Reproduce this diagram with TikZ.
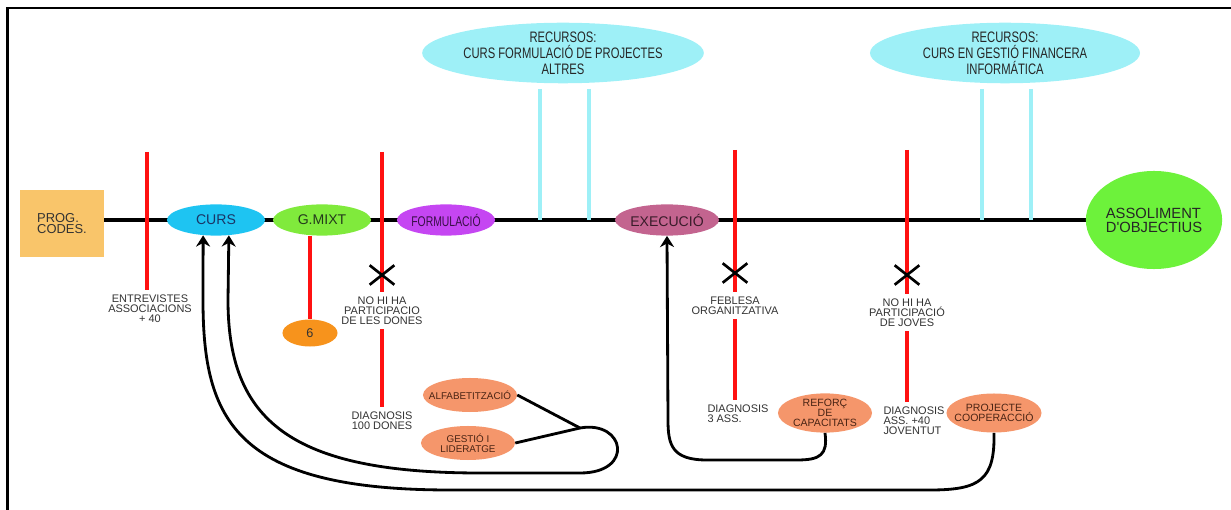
\documentclass[tikz,border=0pt]{standalone}
\usepackage{fontspec}
\setmainfont{Liberation Sans}
\newfontfamily\narrowsf[FakeStretch=0.74]{Liberation Sans}
\usetikzlibrary{shapes.geometric,shapes.misc,arrows.meta,backgrounds}

\definecolor{progOrange}{HTML}{F9C56A}
\definecolor{cursBlue}{HTML}{1EC4F2}
\definecolor{cursText}{HTML}{1A3566}
\definecolor{mixtGreen}{HTML}{80EA3C}
\definecolor{mixtText}{HTML}{243A1C}
\definecolor{formPurple}{HTML}{C546F2}
\definecolor{formText}{HTML}{3A1048}
\definecolor{execMauve}{HTML}{C3648F}
\definecolor{execText}{HTML}{3A1C2A}
\definecolor{goalGreen}{HTML}{6DF23B}
\definecolor{resCyan}{HTML}{9EF0F7}
\definecolor{sixOrange}{HTML}{F7931C}
\definecolor{salmon}{HTML}{F5966B}
\definecolor{salmonText}{HTML}{4A2414}
\definecolor{barRed}{HTML}{FF1111}
\definecolor{labelGray}{HTML}{333333}

\begin{document}
\begin{tikzpicture}[x=0.025cm, y=-0.025cm,
    stagebox/.style={ellipse, inner sep=0pt, minimum width=2.45cm, minimum height=0.78cm, font=\fontsize{10}{10}\selectfont},
    actionbox/.style={ellipse, fill=salmon, inner xsep=-6pt, inner ysep=0pt, minimum width=2.35cm, minimum height=0.85cm, align=center, text=salmonText, font=\fontsize{7}{7.2}\selectfont},
    resbox/.style={ellipse, fill=resCyan, inner sep=0pt, minimum width=6.75cm, minimum height=1.5cm, align=center, text=black!85, font=\narrowsf\fontsize{10.8}{11.4}\selectfont},
    notetext/.style={align=center, inner sep=3pt, text=labelGray, font=\fontsize{7.8}{7.2}\selectfont},
    redbar/.style={barRed, line width=3.5pt},
    resbar/.style={resCyan, line width=3.5pt},
    linkline/.style={line width=2pt},
    flowarrow/.style={line width=2pt, -{Stealth[length=8pt,width=10pt]}},
    blockmark/.style={cross out, draw, line width=1.9pt, minimum width=0.55cm, minimum height=0.42cm, inner sep=0pt}]
    \useasboundingbox (0,0) rectangle (1231,510);
    \draw[black, line width=1.8pt] (7.5,510) -- (7.5,8) -- (1231,8);

    \node[fill=progOrange, minimum width=2.1cm, minimum height=1.65cm, align=left, text=black!80, font=\fontsize{9.2}{8.4}\selectfont] (prog) at (62,223.5) {PROG.\\CODES.};
    \node[stagebox, fill=cursBlue, text=cursText] (curs) at (216,220) {CURS};
    \node[stagebox, fill=mixtGreen, text=mixtText] (gmixt) at (322,220) {G.MIXT};
    \node[stagebox, fill=formPurple, text=formText, font=\narrowsf\fontsize{10}{10}\selectfont] (form) at (446,220) {FORMULACIÓ};
    \node[stagebox, fill=execMauve, text=execText] (exec) at (667,220) {EXECUCIÓ};
    \node[ellipse, fill=goalGreen, minimum width=3.375cm, minimum height=2.45cm, inner sep=0pt, align=left, text=black!85, font=\fontsize{10.5}{10}\selectfont] (goal) at (1154,220) {ASSOLIMENT\\D\textquotesingle OBJECTIUS};

    \node[resbox] (recA) at (563,53) {RECURSOS:\\CURS FORMULACIÓ DE PROJECTES\\ALTRES};
    \node[resbox] (recB) at (1005,53) {RECURSOS:\\CURS EN GESTIÓ FINANCERA\\INFORMÁTICA};

    \begin{scope}[on background layer]
        \draw[line width=2.3pt] (prog.east |- curs) -- (goal.west);
    \end{scope}

    \node[notetext, anchor=north] (entrev) at (150,290) {ENTREVISTES\\ASSOCIACIONS\\+ 40};
    \node[ellipse, fill=sixOrange, minimum width=1.375cm, minimum height=0.675cm, inner sep=0pt, text=black!80, font=\fontsize{9}{9}\selectfont] (six) at (310,333) {6};
    \node[notetext, anchor=north] (nohiDones) at (382,292) {NO HI HA\\PARTICIPACIO\\DE LES DONES};
    \node[notetext, anchor=north] (diagDones) at (382,407) {DIAGNOSIS\\100 DONES};
    \node[notetext, anchor=north] (feblesa) at (735,292) {FEBLESA\\ORGANITZATIVA};
    \node[notetext, anchor=north west, align=left] (diagAss) at (703,400) {DIAGNOSIS\\3 ASS.};
    \node[notetext, anchor=north] (nohiJoves) at (907,294) {NO HI HA\\PARTICIPACIÓ\\DE JOVES};
    \node[notetext, anchor=north west, align=left] (diagJoves) at (879,402) {DIAGNOSIS\\ASS. +40\\JOVENTUT};

    \node[actionbox] (alfab) at (470,395) {ALFABETITZACIÓ};
    \node[actionbox] (gestio) at (468,443) {GESTIÓ I\\LIDERATGE};
    \node[actionbox, minimum width=2.35cm, minimum height=0.975cm, font=\fontsize{7.5}{7.2}\selectfont] (reforc) at (825,413) {REFORÇ\\DE\\CAPACITATS};
    \node[actionbox, minimum width=2.375cm, minimum height=0.975cm, font=\fontsize{7.5}{7.6}\selectfont] (projecte) at (994,413) {PROJECTE\\COOPERACCIÓ};
    \coordinate (knot) at (580,428);

    \coordinate (entrevTop) at (147,152);
    \coordinate (donesTop) at (382,152);
    \coordinate (feblesaTop) at (735,150);
    \coordinate (jovesTop) at (907,150);
    \draw[redbar] (entrevTop) -- (entrevTop |- entrev.north);
    \draw[redbar] (six.north |- gmixt.south) -- (six.north);
    \draw[redbar] (donesTop) -- (nohiDones.north);
    \draw[redbar] (nohiDones.south) -- (diagDones.north);
    \draw[redbar] (feblesaTop) -- (feblesa.north);
    \draw[redbar] (feblesa.south) -- (feblesa.south |- diagAss.north);
    \draw[redbar] (jovesTop) -- (nohiJoves.north);
    \draw[redbar] (nohiJoves.south) -- (nohiJoves.south |- diagJoves.north);

    \node[blockmark] (xDones) at (382,275) {};
    \node[blockmark] (xFeblesa) at (735,273) {};
    \node[blockmark] (xJoves) at (907,275) {};

    \coordinate (resA1) at (540,89);
    \coordinate (resA2) at (589,89);
    \coordinate (resB1) at (982,89);
    \coordinate (resB2) at (1031,89);
    \draw[resbar] (resA1) -- (resA1 |- curs.center);
    \draw[resbar] (resA2) -- (resA2 |- curs.center);
    \draw[resbar] (resB1) -- (resB1 |- curs.center);
    \draw[resbar] (resB2) -- (resB2 |- curs.center);

    \draw[linkline] (alfab.east) -- (knot);
    \draw[linkline] (gestio.east) -- (knot);
    \draw[flowarrow] (knot) .. controls (625,420) and (635,473) .. (580,473) -- (480,473) .. controls (290,473) and (228,420) .. (228,300) -- (curs.-50);
    \draw[flowarrow] (projecte.south) .. controls (995,480) and (980,490) .. (930,490) -- (450,490) .. controls (235,490) and (203,420) .. (203,300) -- (curs.-130);
    \draw[flowarrow] (reforc.south) .. controls (828,455) and (820,460) .. (797,460) -- (707,460) .. controls (672,460) and (668,445) .. (668,420) -- (exec.south);
\end{tikzpicture}
\end{document}
